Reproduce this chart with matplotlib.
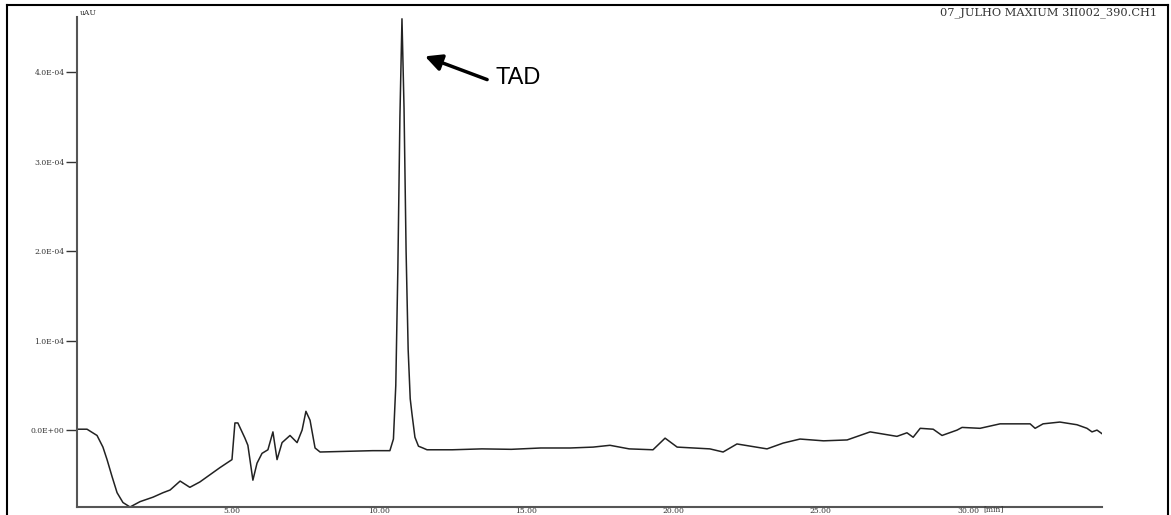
import matplotlib
matplotlib.use("Agg")
import matplotlib.pyplot as plt
from matplotlib.lines import Line2D

# retention time (min) and absorbance (x1e-4 AU)
time_min = [-0.24, 0.10, 0.44, 0.64, 0.78, 0.95, 1.12, 1.32, 1.56, 1.90, 2.34, 2.68, 2.92,
            3.26, 3.59, 3.93, 4.27, 4.61, 5.02, 5.12, 5.22, 5.46, 5.56, 5.73, 5.87, 6.04,
            6.24, 6.41, 6.55, 6.72, 6.99, 7.23, 7.40, 7.53, 7.67, 7.84, 8.01, 8.6, 9.2,
            9.8, 10.38, 10.50, 10.58, 10.65, 10.72, 10.79, 10.86, 10.93, 11.00, 11.07,
            11.13, 11.23, 11.35, 11.50, 11.64, 12.5, 13.5, 14.5, 15.5, 16.5, 17.28,
            17.85, 18.5, 19.31, 19.72, 20.13, 21.24, 21.69, 22.16, 23.18, 23.73, 24.30,
            25.10, 25.90, 26.68, 27.59, 27.93, 28.14, 28.38, 28.82, 29.12, 29.63, 29.80,
            30.41, 31.09, 32.11, 32.28, 32.55, 33.12, 33.70, 34.04, 34.21, 34.38, 34.55]
absorb = [0.01, 0.01, -0.06, -0.19, -0.33, -0.52, -0.70, -0.81, -0.86, -0.80, -0.75, -0.70,
          -0.67, -0.57, -0.64, -0.58, -0.50, -0.42, -0.33, 0.08, 0.08, -0.09, -0.17, -0.56,
          -0.37, -0.26, -0.22, -0.02, -0.33, -0.14, -0.06, -0.14, 0.0, 0.21, 0.11, -0.20,
          -0.245, -0.24, -0.235, -0.23, -0.23, -0.10, 0.5, 1.8, 3.5, 4.60, 3.6, 2.0, 0.9,
          0.35, 0.18, -0.08, -0.18, -0.20, -0.22, -0.22, -0.21, -0.215, -0.20, -0.20,
          -0.19, -0.17, -0.21, -0.22, -0.09, -0.19, -0.21, -0.245, -0.155, -0.21, -0.145,
          -0.10, -0.12, -0.11, -0.02, -0.07, -0.03, -0.08, 0.02, 0.01, -0.06, 0.0, 0.03,
          0.02, 0.07, 0.07, 0.02, 0.07, 0.09, 0.06, 0.02, -0.02, 0.0, -0.04]

xtick_vals = [5, 10, 15, 20, 25, 30]
xtick_labels = ["5.00", "10.00", "15.00", "20.00", "25.00", "30.00"]
ytick_vals = [0, 1, 2, 3, 4]
ytick_labels = ["0.0E+00", "1.0E-04", "2.0E-04", "3.0E-04", "4.0E-04"]

W, H = 1171, 515
fig = plt.figure(figsize=(W / 100, H / 100), dpi=100)
ax = fig.add_axes([77 / W, 1 - 507 / H, (1102 - 77) / W, (507 - 17) / H])

ax.plot(time_min, absorb, color="#222222", lw=1.1)
ax.set_xlim(-0.24, 34.55)
ax.set_ylim(-0.86, 4.62)

for s in ["top", "right"]:
    ax.spines[s].set_visible(False)
for s in ["left", "bottom"]:
    ax.spines[s].set_color("#555555")
    ax.spines[s].set_linewidth(1.5)

lab_font = dict(family="DejaVu Serif", fontsize=5.5)
ax.set_xticks(xtick_vals)
ax.set_xticklabels(xtick_labels, **lab_font)
ax.set_yticks(ytick_vals)
ax.set_yticklabels(ytick_labels, **lab_font)
ax.tick_params(axis="x", length=0, pad=0, colors="#333333")
ax.tick_params(axis="y", length=8, width=1, pad=1, colors="#333333")

fig.text(80 / W, 1 - 13 / H, "uAU", color="#333333", va="center", **lab_font)
fig.text(983 / W, 1 - 509 / H, "[min]", color="#333333", va="center", **lab_font)
fig.text(1157 / W, 1 - 13 / H, "07_JULHO MAXIUM 3II002_390.CH1", family="DejaVu Serif",
         fontsize=8.2, color="#333333", va="center", ha="right")

ax.annotate("", xy=(11.57, 4.18), xytext=(13.68, 3.92),
            arrowprops=dict(arrowstyle="-|>", lw=2.5, color="black", mutation_scale=25,
                            shrinkA=0, shrinkB=0))
ax.text(13.95, 3.94, "TAD", family="Liberation Sans", fontsize=17, va="center")

# outer frame (left, top, right)
fig.add_artist(Line2D([7 / W, 7 / W], [0, 1 - 5 / H], color="black", lw=1.5))
fig.add_artist(Line2D([7 / W, 1168 / W], [1 - 5 / H, 1 - 5 / H], color="black", lw=1.5))
fig.add_artist(Line2D([1168 / W, 1168 / W], [0, 1 - 5 / H], color="black", lw=1.5))

fig.savefig("out.png", dpi=100)
